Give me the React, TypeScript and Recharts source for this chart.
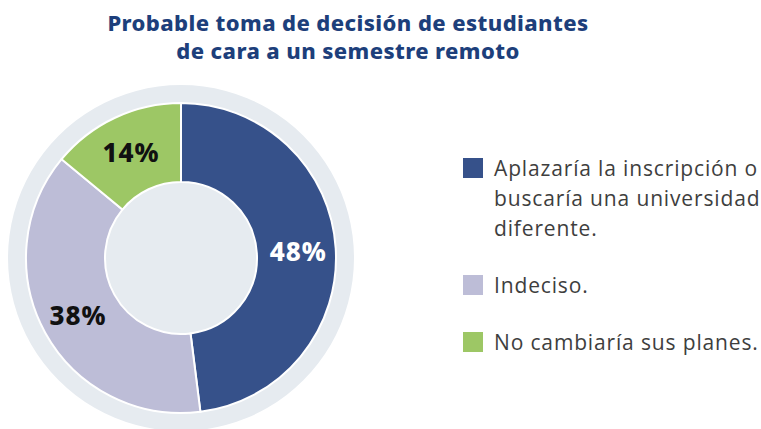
import { PieChart, Pie, Cell, Legend } from "recharts";

const categories = [
  "Aplazaría la inscripción o buscaría una universidad diferente.",
  "Indeciso.",
  "No cambiaría sus planes.",
];
const legendLines = [
  ["Aplazaría la inscripción o", "buscaría una universidad", "diferente."],
  ["Indeciso."],
  ["No cambiaría sus planes."],
];
const values = [48, 38, 14];
const colors = ["#36518A", "#BDBDD7", "#9DC765"];
const labelColors = ["#FFFFFF", "#111111", "#111111"];
const ringData = [{ name: "fondo", value: 1 }];

const data = categories.map((name, i) => ({ name, value: values[i] }));

const RAD = Math.PI / 180;

function renderLabel(props: any) {
  const { cx, cy, midAngle, innerRadius, outerRadius, index, value } = props;
  const r = (innerRadius + outerRadius) / 2 + 2;
  const x = cx + r * Math.cos(-midAngle * RAD);
  const y = cy + r * Math.sin(-midAngle * RAD);
  return (
    <text
      x={x}
      y={y}
      fill={labelColors[index]}
      textAnchor="middle"
      dominantBaseline="central"
      fontFamily="'Noto Sans', sans-serif"
      fontWeight={800}
      fontSize={26}
      letterSpacing={1}
    >
      {value}%
    </text>
  );
}

function LegendBox() {
  return (
    <div
      style={{
        fontFamily: "'Open Sans', sans-serif",
        fontSize: 21,
        letterSpacing: 0.85,
        color: "#3E3E3E",
        lineHeight: "30px",
      }}
    >
      {legendLines.map((lines, i) => (
        <div key={i} style={{ display: "flex", alignItems: "flex-start", marginBottom: 27 }}>
          <span
            style={{
              width: 20,
              height: 20,
              background: colors[i],
              marginTop: 5,
              marginRight: 11,
              flexShrink: 0,
            }}
          />
          <div style={{ whiteSpace: "nowrap" }}>
            {lines.map((l) => (
              <div key={l}>{l}</div>
            ))}
          </div>
        </div>
      ))}
    </div>
  );
}

export default function App() {
  return (
    <div style={{ position: "absolute", left: 0, top: 0, width: 761, height: 429, background: "#fff", overflow: "hidden" }}>
      <div
        style={{
          position: "absolute",
          left: 0,
          top: 8,
          width: 696,
          textAlign: "center",
          fontFamily: "'Noto Sans', sans-serif",
          fontWeight: 800,
          fontSize: 22,
          letterSpacing: 0.4,
          lineHeight: "28px",
          color: "#1D3F7B",
        }}
      >
        Probable toma de decisión de estudiantes
        <br />
        de cara a un semestre remoto
      </div>
      <PieChart width={761} height={429}>
        <Pie
          data={ringData}
          dataKey="value"
          cx={176}
          cy={253}
          outerRadius={173}
          innerRadius={0}
          fill="#E6EBF0"
          stroke="none"
          isAnimationActive={false}
          legendType="none"
        />
        <Pie
          data={data}
          dataKey="value"
          nameKey="name"
          cx={176}
          cy={253}
          innerRadius={76}
          outerRadius={155}
          startAngle={90}
          endAngle={-270}
          stroke="#FFFFFF"
          strokeWidth={2}
          label={renderLabel}
          labelLine={false}
          isAnimationActive={false}
        >
          {data.map((d, i) => (
            <Cell key={d.name} fill={colors[i]} />
          ))}
        </Pie>
        <Legend
          layout="vertical"
          content={() => <LegendBox />}
          wrapperStyle={{ left: 463, top: 153, width: 300 }}
        />
      </PieChart>
    </div>
  );
}
